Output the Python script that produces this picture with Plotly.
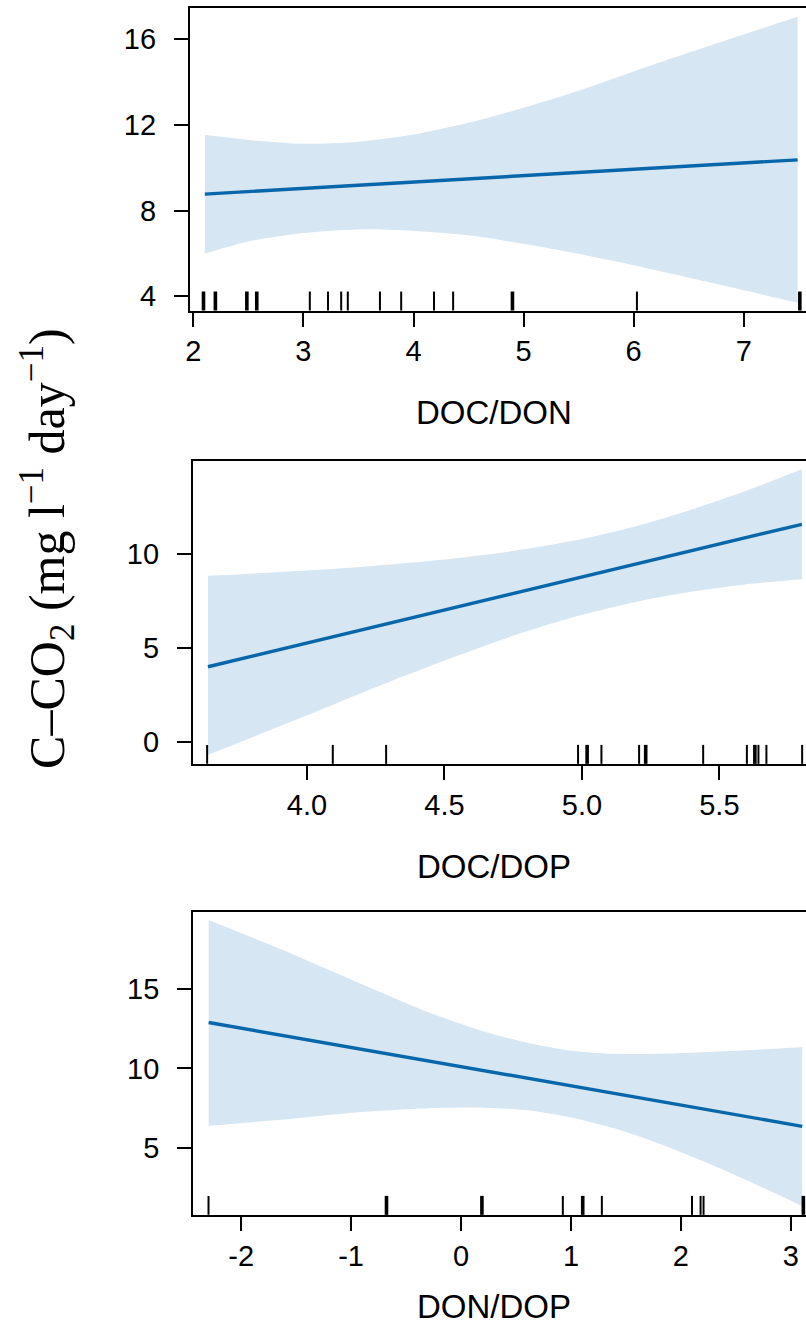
import plotly.graph_objects as go

W, H = 806, 1327

# ---------------- data ----------------
# Panel 1: DOC/DON
p1_fit_x = [2.104, 7.49]
p1_fit_y = [8.77, 10.37]
p1_ci_x = [2.104, 2.5, 3.0, 3.5, 4.0, 4.5, 5.0, 5.5, 6.0, 6.75, 7.49]
p1_ci_lo = [5.98, 6.55, 6.95, 7.12, 7.05, 6.85, 6.45, 5.98, 5.45, 4.58, 3.69]
p1_ci_hi = [11.54, 11.30, 11.12, 11.22, 11.55, 12.10, 12.80, 13.60, 14.50, 15.80, 17.05]
p1_rug = [2.092, 2.200, 2.486, 2.576, 3.058, 3.223, 3.343, 3.403, 3.695, 3.888,
          4.186, 4.360, 4.899, 6.030, 7.510]
p1_rug_n = [2, 2, 2, 2, 1, 1, 1, 1, 1, 1, 1, 1, 2, 1, 2]
p1_xticks = [2, 3, 4, 5, 6, 7]
p1_xticklabels = ["2", "3", "4", "5", "6", "7"]
p1_yticks = [4, 8, 12, 16]
p1_xrange = [1.968, 7.566]
p1_yrange = [3.33, 17.45]

# Panel 2: DOC/DOP
p2_fit_x = [3.64, 5.80]
p2_fit_y = [3.99, 11.59]
p2_ci_x = [3.64, 4.0, 4.25, 4.527, 4.75, 5.0, 5.2, 5.4, 5.6, 5.80]
p2_ci_lo = [-0.71, 1.40, 2.90, 4.47, 5.64, 6.76, 7.46, 8.00, 8.39, 8.66]
p2_ci_hi = [8.84, 9.12, 9.38, 9.75, 10.16, 10.80, 11.50, 12.38, 13.39, 14.52]
p2_rug = [3.637, 4.094, 4.288, 4.986, 5.019, 5.071, 5.208, 5.232, 5.441, 5.600,
          5.629, 5.642, 5.671, 5.801]
p2_rug_n = [1, 1, 1, 1, 2, 1, 1, 2, 1, 1, 2, 1, 1, 1]
p2_xticks = [4.0, 4.5, 5.0, 5.5]
p2_xticklabels = ["4.0", "4.5", "5.0", "5.5"]
p2_yticks = [0, 5, 10]
p2_xrange = [3.585, 5.815]
p2_yrange = [-1.19, 14.95]

# Panel 3: DON/DOP
p3_fit_x = [-2.296, 3.104]
p3_fit_y = [12.90, 6.34]
p3_ci_x = [-2.296, -1.649, -0.98, -0.3, 0.2, 0.6, 1.0, 1.4, 1.8, 2.4, 3.104]
p3_ci_lo = [6.38, 6.75, 7.20, 7.48, 7.52, 7.35, 6.90, 6.20, 5.25, 3.55, 1.30]
p3_ci_hi = [19.37, 17.55, 15.55, 13.55, 12.35, 11.62, 11.12, 10.92, 10.92, 11.08, 11.34]
p3_rug = [-2.297, -0.678, 0.190, 0.926, 1.107, 1.281, 2.101, 2.179, 2.206, 3.114]
p3_rug_n = [1, 2, 2, 1, 2, 1, 1, 1, 1, 2]
p3_xticks = [-2, -1, 0, 1, 2, 3]
p3_xticklabels = ["-2", "-1", "0", "1", "2", "3"]
p3_yticks = [5, 10, 15]
p3_xrange = [-2.437, 3.138]
p3_yrange = [0.75, 19.88]

x_titles = ["DOC/DON", "DOC/DOP", "DON/DOP"]
y_title = "C\u2013CO<sub>2</sub> (mg l<sup>\u22121</sup> day<sup>\u22121</sup>)"

# ---------------- layout (pixel boxes) ----------------
boxes = [(186, 8.3, 311), (189, 462, 765), (189.3, 913.3, 1216.7)]
title_y_px = [413, 868, 1308]

LINE = "#0767AA"
BAND = "rgba(214,230,242,1)"
FONT = "Liberation Sans, Arial, sans-serif"

panels = [
    (p1_fit_x, p1_fit_y, p1_ci_x, p1_ci_lo, p1_ci_hi, p1_rug, p1_rug_n, p1_xticks, p1_xticklabels, p1_yticks, p1_xrange, p1_yrange),
    (p2_fit_x, p2_fit_y, p2_ci_x, p2_ci_lo, p2_ci_hi, p2_rug, p2_rug_n, p2_xticks, p2_xticklabels, p2_yticks, p2_xrange, p2_yrange),
    (p3_fit_x, p3_fit_y, p3_ci_x, p3_ci_lo, p3_ci_hi, p3_rug, p3_rug_n, p3_xticks, p3_xticklabels, p3_yticks, p3_xrange, p3_yrange),
]

fig = go.Figure()
layout = dict(
    width=W, height=H,
    margin=dict(l=0, r=0, t=0, b=0),
    paper_bgcolor="white", plot_bgcolor="white",
    showlegend=False,
    font=dict(family=FONT, color="black", size=29),
)
shapes = []
annotations = []

for i, (fx, fy, cx, clo, chi, rug, rugn, xt, xtl, yt, xr, yr) in enumerate(panels):
    n = i + 1
    xa = "x" if n == 1 else f"x{n}"
    ya = "y" if n == 1 else f"y{n}"
    left, top, bottom = boxes[i]
    fig.add_trace(go.Scatter(x=cx, y=chi, mode="lines", line=dict(width=0, shape="spline", smoothing=0.8),
                             xaxis=xa, yaxis=ya, hoverinfo="skip"))
    fig.add_trace(go.Scatter(x=cx, y=clo, mode="lines", line=dict(width=0, shape="spline", smoothing=0.8),
                             fill="tonexty", fillcolor=BAND, xaxis=xa, yaxis=ya, hoverinfo="skip"))
    fig.add_trace(go.Scatter(x=fx, y=fy, mode="lines", line=dict(color=LINE, width=3.4),
                             xaxis=xa, yaxis=ya))
    plot_h = bottom - top
    for v, c in zip(rug, rugn):
        shapes.append(dict(type="line", xref=xa, yref=f"{ya} domain", x0=v, x1=v, y0=0, y1=19 / plot_h,
                           line=dict(color="black", width=2 if c == 1 else 3.6)))
    xkey = "xaxis" if n == 1 else f"xaxis{n}"
    ykey = "yaxis" if n == 1 else f"yaxis{n}"
    layout[xkey] = dict(
        domain=[left / W, 1.0], range=xr, anchor=ya,
        showline=True, linecolor="black", linewidth=2, mirror=True,
        ticks="outside", ticklen=14, tickwidth=2, tickcolor="black",
        tickvals=xt, ticktext=xtl, showgrid=False, zeroline=False,
        tickfont=dict(size=29, family=FONT), ticklabelstandoff=0,
    )
    layout[ykey] = dict(
        domain=[1 - bottom / H, 1 - top / H], range=yr, anchor=xa,
        showline=True, linecolor="black", linewidth=2, mirror=False,
        ticks="outside", ticklen=14, tickwidth=2, tickcolor="black",
        tickvals=yt, showgrid=False, zeroline=False,
        tickfont=dict(size=29, family=FONT), ticklabelstandoff=12,
    )
    annotations.append(dict(text=x_titles[i], xref="paper", yref="paper",
                            x=492 / W, y=1 - title_y_px[i] / H, xanchor="center", yanchor="middle",
                            showarrow=False, font=dict(size=33, family=FONT, color="black")))

annotations.append(dict(text=y_title, xref="paper", yref="paper", x=42 / W, y=1 - 549 / H,
                        xanchor="center", yanchor="middle", textangle=-90, showarrow=False,
                        font=dict(size=50, family="Liberation Serif, Times New Roman, serif", color="black")))

layout["shapes"] = shapes
layout["annotations"] = annotations
fig.update_layout(**layout)
fig.write_html("out.html", config={"displayModeBar": False, "staticPlot": True},
               post_script="document.body.style.margin='0';document.body.style.overflow='hidden';")
